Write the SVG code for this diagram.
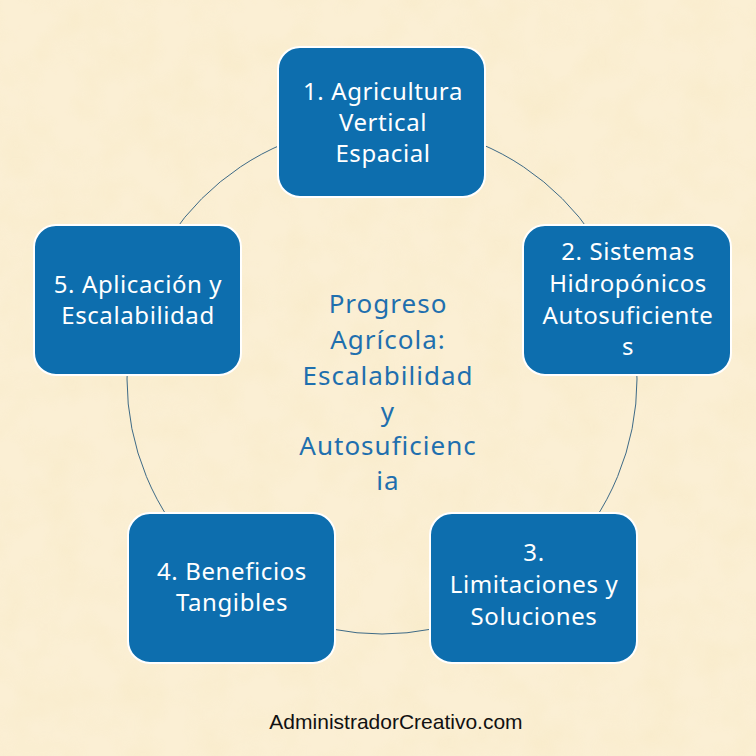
<svg xmlns="http://www.w3.org/2000/svg" width="756" height="756" viewBox="0 0 756 756">
<defs>
<filter id="tex" x="0" y="0" width="100%" height="100%">
<feTurbulence type="fractalNoise" baseFrequency="0.025" numOctaves="3" seed="4" result="n"/>
<feColorMatrix type="matrix" values="0 0 0 0 0.92  0 0 0 0 0.80  0 0 0 0 0.52  0 0 0 1.4 -0.5"/>
</filter>
<style>
.box{fill:#0D6EAE;stroke:#ffffff;stroke-width:2}
.lbl{font-family:"Noto Sans","Open Sans",sans-serif;font-size:24px;letter-spacing:0.6px;fill:#ffffff;text-anchor:middle}
.ctr{font-family:"Noto Sans","Open Sans",sans-serif;font-size:26px;letter-spacing:1px;fill:#1F6FAE;text-anchor:middle}
.ring{fill:none;stroke:#3E6A86;stroke-width:1}
</style>
</defs>
<rect width="756" height="756" fill="#FBEFD4"/>
<rect width="756" height="756" filter="url(#tex)" opacity="0.45"/>
<g id="connectors">
<circle class="ring" cx="382" cy="379" r="255"/>
</g>
<g id="node1">
<rect class="box" x="278" y="47" width="207" height="150" rx="22"/>
<text class="lbl" x="383" y="100">1. Agricultura</text>
<text class="lbl" x="383" y="131">Vertical</text>
<text class="lbl" x="383" y="162">Espacial</text>
</g>
<g id="node2">
<rect class="box" x="523" y="225" width="208" height="150" rx="22"/>
<text class="lbl" x="628" y="260">2. Sistemas</text>
<text class="lbl" x="628" y="292">Hidropónicos</text>
<text class="lbl" x="628" y="324">Autosuficiente</text>
<text class="lbl" x="628" y="355">s</text>
</g>
<g id="node3">
<rect class="box" x="430" y="513" width="207" height="150" rx="22"/>
<text class="lbl" x="534" y="561">3.</text>
<text class="lbl" x="534" y="593">Limitaciones y</text>
<text class="lbl" x="534" y="625">Soluciones</text>
</g>
<g id="node4">
<rect class="box" x="128" y="513" width="207" height="150" rx="22"/>
<text class="lbl" x="232" y="580">4. Beneficios</text>
<text class="lbl" x="232" y="611">Tangibles</text>
</g>
<g id="node5">
<rect class="box" x="34" y="225" width="207" height="150" rx="22"/>
<text class="lbl" x="138" y="293">5. Aplicación y</text>
<text class="lbl" x="138" y="324">Escalabilidad</text>
</g>
<g id="center">
<text class="ctr" x="388" y="313">Progreso</text>
<text class="ctr" x="388" y="349">Agrícola:</text>
<text class="ctr" x="388" y="385">Escalabilidad</text>
<text class="ctr" x="388" y="421">y</text>
<text class="ctr" x="388" y="455">Autosuficienc</text>
<text class="ctr" x="388" y="490">ia</text>
</g>
<text x="396" y="729" font-family="Liberation Sans, Arial, sans-serif" font-size="21" fill="#111111" text-anchor="middle">AdministradorCreativo.com</text>
</svg>
